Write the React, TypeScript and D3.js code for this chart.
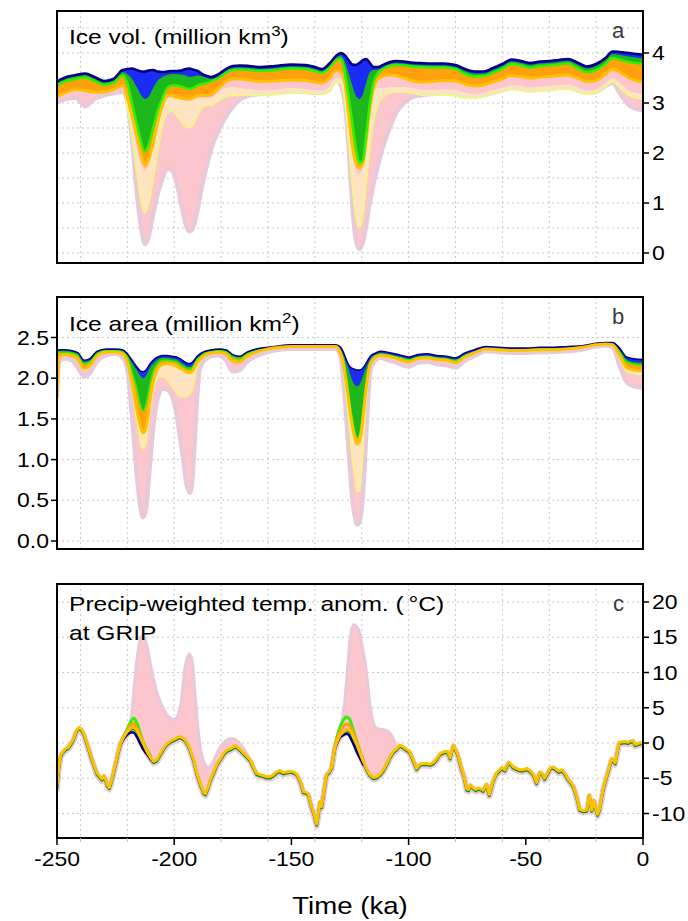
import React from "react";
import * as d3 from "d3";

// ================= DATA =================
const X_TICKS = [-250, -200, -150, -100, -50, 0];
const X_GRID = [-240, -220, -200, -180, -160, -140, -120, -100, -80, -60, -40, -20];

// ---------- Panel a : ice volume (million km^3), ensemble bands ----------
const TIME_A = [
  -250, -246, -242, -238, -234, -230, -226, -222, -220, -218,
  -216, -214, -212.5, -211, -209, -207, -205, -203, -201, -199,
  -197, -195, -193.5, -192, -190, -188, -186, -184, -181, -178,
  -175, -172, -168, -163, -157, -150, -144, -140, -137, -134,
  -131, -129, -127, -125.5, -124, -122.5, -121, -119.5, -118, -116.5,
  -115, -113, -111, -108, -105, -102, -99, -95, -90, -85,
  -80, -76, -72, -68, -64, -60, -56, -52, -48, -44,
  -40, -36, -32, -28, -24, -20, -16, -13, -10, -6,
  -3, 0,
];
const VOL_TOP = [
  3.43, 3.52, 3.56, 3.59, 3.52, 3.44, 3.48, 3.66, 3.68, 3.69,
  3.66, 3.63, 3.63, 3.65, 3.66, 3.63, 3.62, 3.63, 3.64, 3.64,
  3.65, 3.68, 3.69, 3.67, 3.64, 3.58, 3.54, 3.52, 3.58, 3.68,
  3.74, 3.75, 3.74, 3.72, 3.74, 3.77, 3.76, 3.72, 3.68, 3.78,
  3.94, 4.0, 3.95, 3.85, 3.77, 3.76, 3.8, 3.86, 3.88, 3.8,
  3.72, 3.72, 3.76, 3.82, 3.84, 3.83, 3.81, 3.8, 3.79, 3.79,
  3.76, 3.68, 3.63, 3.63, 3.7, 3.78, 3.87, 3.84, 3.8, 3.83,
  3.84, 3.86, 3.88, 3.81, 3.73, 3.78, 3.9, 4.03, 4.02, 4.0,
  3.98, 3.97,
];
const VOL_BLUE_LO = [
  3.4, 3.49, 3.53, 3.56, 3.49, 3.41, 3.45, 3.62, 3.58, 3.48,
  3.32, 3.15, 3.08, 3.12, 3.3, 3.45, 3.52, 3.56, 3.58, 3.58,
  3.57, 3.55, 3.52, 3.53, 3.55, 3.53, 3.5, 3.48, 3.54, 3.64,
  3.7, 3.71, 3.7, 3.68, 3.7, 3.73, 3.72, 3.68, 3.64, 3.74,
  3.9, 3.95, 3.8, 3.58, 3.35, 3.15, 3.08, 3.18, 3.42, 3.62,
  3.66, 3.67, 3.72, 3.78, 3.8, 3.79, 3.77, 3.76, 3.75, 3.75,
  3.72, 3.64, 3.59, 3.59, 3.66, 3.74, 3.83, 3.8, 3.76, 3.79,
  3.8, 3.82, 3.84, 3.77, 3.69, 3.74, 3.86, 3.98, 3.96, 3.93,
  3.91, 3.89,
];
const VOL_GREEN_LO = [
  3.35, 3.44, 3.48, 3.51, 3.44, 3.36, 3.4, 3.55, 3.4, 3.0,
  2.6, 2.2, 2.03, 2.15, 2.5, 2.85, 3.1, 3.3, 3.35, 3.35,
  3.33, 3.3, 3.28, 3.3, 3.35, 3.38, 3.4, 3.44, 3.5, 3.6,
  3.66, 3.67, 3.66, 3.64, 3.66, 3.69, 3.68, 3.64, 3.6, 3.7,
  3.86, 3.88, 3.55, 3.1, 2.6, 2.1, 1.8, 1.85, 2.4, 3.0,
  3.4, 3.6, 3.68, 3.74, 3.76, 3.75, 3.73, 3.72, 3.71, 3.71,
  3.68, 3.58, 3.53, 3.54, 3.6, 3.68, 3.78, 3.75, 3.7, 3.74,
  3.75, 3.77, 3.79, 3.7, 3.62, 3.66, 3.78, 3.9, 3.87, 3.82,
  3.8, 3.78,
];
const VOL_ORANGE_LO = [
  3.12, 3.22, 3.27, 3.25, 3.22, 3.22, 3.27, 3.35, 3.1, 2.75,
  2.35, 1.95, 1.74, 1.85, 2.2, 2.62, 2.95, 3.15, 3.15, 3.12,
  3.1, 3.08, 3.08, 3.1, 3.15, 3.15, 3.15, 3.17, 3.3, 3.42,
  3.48, 3.48, 3.46, 3.43, 3.44, 3.46, 3.45, 3.42, 3.4, 3.48,
  3.65, 3.62, 3.35, 2.75, 2.15, 1.8, 1.7, 1.8, 2.3, 2.9,
  3.3, 3.48, 3.54, 3.56, 3.55, 3.5, 3.45, 3.42, 3.43, 3.45,
  3.44, 3.38, 3.34, 3.36, 3.42, 3.48, 3.55, 3.53, 3.5, 3.52,
  3.53, 3.55, 3.56, 3.5, 3.43, 3.45, 3.58, 3.68, 3.62, 3.5,
  3.45, 3.42,
];
const VOL_YELLOW_HI = [
  3.15, 3.25, 3.28, 3.27, 3.25, 3.25, 3.28, 3.33, 3.05, 2.6,
  2.1, 1.75, 1.65, 1.75, 2.1, 2.55, 2.9, 3.1, 3.1, 3.08,
  3.06, 3.04, 3.04, 3.06, 3.1, 3.1, 3.1, 3.1, 3.22, 3.3,
  3.32, 3.3, 3.28, 3.25, 3.26, 3.3, 3.28, 3.26, 3.25, 3.32,
  3.5, 3.5, 3.2, 2.6, 2.0, 1.65, 1.58, 1.7, 2.2, 2.8,
  3.2, 3.3, 3.3, 3.32, 3.32, 3.32, 3.3, 3.27, 3.26, 3.27,
  3.26, 3.2, 3.18, 3.2, 3.26, 3.3, 3.35, 3.34, 3.31, 3.33,
  3.34, 3.36, 3.37, 3.31, 3.25, 3.28, 3.4, 3.5, 3.4, 3.25,
  3.2, 3.18,
];
const VOL_YELLOW_LO = [
  3.14, 3.24, 3.28, 3.26, 3.24, 3.24, 3.28, 3.34, 2.9, 2.3,
  1.6, 1.0, 0.8, 0.95, 1.45, 2.0, 2.55, 2.8, 2.85, 2.75,
  2.62, 2.52, 2.5, 2.55, 2.75, 2.9, 2.95, 2.95, 3.05, 3.12,
  3.15, 3.15, 3.15, 3.15, 3.16, 3.2, 3.2, 3.18, 3.17, 3.22,
  3.4, 3.4, 2.9, 2.1, 1.3, 0.7, 0.5, 0.75, 1.4, 2.1,
  2.6, 2.95, 3.1, 3.2, 3.22, 3.22, 3.2, 3.16, 3.15, 3.16,
  3.14, 3.1, 3.1, 3.12, 3.18, 3.22, 3.27, 3.25, 3.22, 3.24,
  3.25, 3.27, 3.28, 3.22, 3.17, 3.2, 3.32, 3.42, 3.3, 3.15,
  3.1, 3.08,
];
const VOL_PINK_LO = [
  3.0, 3.08, 3.1, 2.93, 3.08, 3.15, 3.19, 3.22, 3.0, 2.25,
  1.2, 0.45, 0.18, 0.3, 0.75, 1.17, 1.48, 1.68, 1.65, 1.4,
  0.95, 0.55, 0.43, 0.5, 0.85, 1.35, 1.75, 2.1, 2.45, 2.72,
  2.92, 3.06, 3.15, 3.18, 3.2, 3.23, 3.22, 3.2, 3.2, 3.25,
  3.45, 3.35, 2.9, 2.0, 0.9, 0.25, 0.08, 0.2, 0.55, 1.0,
  1.35, 1.75, 2.1, 2.5, 2.82, 3.0, 3.1, 3.15, 3.18, 3.19,
  3.17, 3.13, 3.13, 3.15, 3.2, 3.25, 3.3, 3.28, 3.25, 3.27,
  3.28, 3.3, 3.31, 3.25, 3.2, 3.22, 3.34, 3.4, 3.2, 2.95,
  2.88, 2.86,
];
const VOL_TICKS = [0, 1, 2, 3, 4];
const VOL_GRID = [0, 0.5, 1, 1.5, 2, 2.5, 3, 3.5, 4, 4.5];

// ---------- Panel b : ice area (million km^2) ----------
const TIME_B = [
  -250, -249, -247, -244, -241, -238.5, -236, -233, -229, -225,
  -222, -220, -218, -216, -214.5, -213.3, -212, -210.5, -209, -207,
  -205, -203, -201, -199, -197.5, -196, -195, -194, -193.3, -192.5,
  -191.5, -190.5, -189, -187, -184, -181, -178, -175, -172, -169,
  -165, -160, -155, -150, -145, -140, -135, -131, -129, -128,
  -127, -126, -125, -124, -123, -122, -121, -120, -119, -118,
  -117, -116, -114, -112, -109, -106, -103, -100, -96, -92,
  -88, -84, -80, -76, -72, -67, -62, -56, -50, -44,
  -38, -32, -26, -20, -16, -13, -10, -7, -4, 0,
];
const AREA_TOP = [
  2.33, 2.35, 2.35, 2.34, 2.31, 2.22, 2.24, 2.33, 2.36, 2.36,
  2.35, 2.3, 2.22, 2.14, 2.09, 2.08, 2.1, 2.17, 2.22, 2.26,
  2.28, 2.28, 2.27, 2.26, 2.24, 2.21, 2.19, 2.18, 2.18, 2.19,
  2.22, 2.26, 2.3, 2.33, 2.35, 2.36, 2.35, 2.29, 2.27, 2.32,
  2.36, 2.38, 2.4, 2.41, 2.41, 2.41, 2.41, 2.41, 2.38, 2.33,
  2.26, 2.19, 2.14, 2.12, 2.11, 2.1, 2.1, 2.11, 2.14, 2.19,
  2.24, 2.28, 2.31, 2.33, 2.32, 2.3, 2.28, 2.26, 2.29, 2.3,
  2.28, 2.27, 2.25, 2.31, 2.35, 2.39, 2.38, 2.37, 2.37, 2.38,
  2.38, 2.39, 2.4, 2.43, 2.44, 2.44, 2.37, 2.26, 2.24, 2.23,
];
const AREA_BLUE_LO = [
  2.32, 2.34, 2.34, 2.33, 2.3, 2.2, 2.22, 2.32, 2.35, 2.35,
  2.34, 2.29, 2.19, 2.1, 2.03, 2.0, 2.03, 2.12, 2.18, 2.23,
  2.25, 2.25, 2.24, 2.23, 2.2, 2.17, 2.15, 2.14, 2.14, 2.15,
  2.19, 2.24, 2.28, 2.32, 2.34, 2.35, 2.34, 2.28, 2.26, 2.31,
  2.35, 2.37, 2.39, 2.4, 2.4, 2.4, 2.4, 2.4, 2.36, 2.3,
  2.22, 2.14, 2.05, 1.97, 1.92, 1.9, 1.92, 1.98, 2.06, 2.14,
  2.2, 2.25, 2.29, 2.31, 2.3, 2.28, 2.26, 2.24, 2.27, 2.28,
  2.26, 2.25, 2.23, 2.29, 2.33, 2.37, 2.37, 2.36, 2.36, 2.37,
  2.37, 2.38, 2.39, 2.42, 2.43, 2.43, 2.35, 2.23, 2.2, 2.19,
];
const AREA_GREEN_LO = [
  2.3, 2.32, 2.32, 2.31, 2.28, 2.18, 2.2, 2.3, 2.34, 2.34,
  2.33, 2.26, 2.08, 1.88, 1.68, 1.6, 1.68, 1.9, 2.08, 2.18,
  2.22, 2.22, 2.21, 2.2, 2.17, 2.14, 2.12, 2.11, 2.11, 2.12,
  2.17, 2.22, 2.26, 2.31, 2.33, 2.34, 2.33, 2.26, 2.24, 2.3,
  2.34, 2.37, 2.39, 2.4, 2.4, 2.4, 2.4, 2.4, 2.34, 2.25,
  2.1, 1.9, 1.7, 1.5, 1.35, 1.27, 1.3, 1.45, 1.7, 1.95,
  2.12, 2.22, 2.28, 2.3, 2.29, 2.27, 2.25, 2.23, 2.26, 2.27,
  2.25, 2.24, 2.22, 2.28, 2.32, 2.37, 2.36, 2.35, 2.35, 2.36,
  2.36, 2.37, 2.39, 2.42, 2.43, 2.42, 2.32, 2.2, 2.17, 2.16,
];
const AREA_ORANGE_LO = [
  1.78, 2.26, 2.29, 2.28, 2.23, 2.12, 2.15, 2.27, 2.32, 2.32,
  2.3, 2.2, 1.95, 1.62, 1.42, 1.33, 1.4, 1.7, 1.95, 2.12,
  2.17, 2.18, 2.17, 2.15, 2.12, 2.1, 2.08, 2.07, 2.07, 2.08,
  2.12, 2.18, 2.23, 2.28, 2.31, 2.32, 2.3, 2.21, 2.2, 2.27,
  2.32, 2.36, 2.38, 2.39, 2.39, 2.39, 2.39, 2.39, 2.3, 2.2,
  2.02, 1.82, 1.6, 1.42, 1.27, 1.19, 1.22, 1.38, 1.65, 1.9,
  2.1, 2.2, 2.26, 2.28, 2.27, 2.25, 2.22, 2.2, 2.24, 2.25,
  2.23, 2.22, 2.19, 2.26, 2.31, 2.36, 2.35, 2.34, 2.34, 2.35,
  2.35, 2.36, 2.38, 2.41, 2.42, 2.41, 2.28, 2.13, 2.1, 2.09,
];
const AREA_YELLOW_LO = [
  1.78, 2.25, 2.28, 2.27, 2.22, 2.1, 2.13, 2.26, 2.31, 2.31,
  2.29, 2.18, 1.9, 1.5, 1.22, 1.12, 1.2, 1.55, 1.85, 2.0,
  2.02, 1.98, 1.9, 1.82, 1.78, 1.77, 1.77, 1.78, 1.8, 1.84,
  1.95, 2.1, 2.2, 2.26, 2.3, 2.31, 2.29, 2.2, 2.19, 2.26,
  2.31, 2.35, 2.37, 2.38, 2.38, 2.38, 2.38, 2.38, 2.28, 2.15,
  1.9, 1.6, 1.3, 1.0, 0.8, 0.6, 0.62, 0.85, 1.3, 1.75,
  2.05, 2.18, 2.25, 2.27, 2.26, 2.24, 2.21, 2.19, 2.23, 2.24,
  2.22, 2.21, 2.18, 2.25, 2.3, 2.35, 2.34, 2.33, 2.33, 2.34,
  2.34, 2.35, 2.37, 2.4, 2.41, 2.4, 2.25, 2.08, 2.05, 2.04,
];
const AREA_PINK_LO = [
  1.75, 2.2, 2.24, 2.22, 2.12, 2.02, 2.06, 2.2, 2.28, 2.3,
  2.25, 2.1, 1.5, 0.8, 0.42, 0.29, 0.38, 0.85, 1.35, 1.75,
  1.87, 1.86, 1.78, 1.55, 1.25, 0.95, 0.72, 0.62, 0.59, 0.66,
  1.05, 1.6, 2.12, 2.22, 2.27, 2.28, 2.22, 2.08, 2.1, 2.2,
  2.27, 2.32, 2.35, 2.36, 2.36, 2.36, 2.36, 2.36, 2.25, 2.0,
  1.65, 1.25, 0.85, 0.5, 0.3, 0.2, 0.23, 0.38, 0.75, 1.3,
  1.85, 2.12, 2.22, 2.25, 2.22, 2.2, 2.16, 2.14, 2.19, 2.2,
  2.17, 2.16, 2.13, 2.21, 2.27, 2.33, 2.32, 2.31, 2.31, 2.32,
  2.32, 2.33, 2.35, 2.39, 2.4, 2.38, 2.15, 1.95, 1.9, 1.88,
];
const AREA_TICKS = [0, 0.5, 1, 1.5, 2, 2.5];

// ---------- Panel c : precip-weighted temperature anomaly at GRIP ----------
const TEMP_MAIN: [number, number][] = [
  [-250, -6.2], [-249.3, -3.6], [-248.6, -1.9], [-247.5, -1.2], [-246.4, -0.8], [-245.5, -0.7],
  [-245, -0.5], [-244, 0.0], [-243, 0.6], [-241.8, 1.7], [-240.7, 2.2], [-239.6, 2.0],
  [-238.5, 1.3], [-237.2, 0.0], [-235.8, -1.5], [-234.3, -3.0], [-232.9, -4.3], [-231.6, -4.8],
  [-230.8, -5.1], [-229.9, -4.6], [-229.2, -5.2], [-228.5, -6.0], [-227.7, -6.3], [-227, -5.6],
  [-226, -4.3], [-225, -2.9], [-224, -1.4], [-223, -0.1], [-221.5, 0.9], [-220, 1.6],
  [-218.5, 2.1], [-217.3, 2.3], [-216, 1.8], [-214.5, 0.9], [-213, -0.2], [-211.6, -1.2],
  [-210, -2.1], [-208.8, -2.6], [-207.5, -2.4], [-205.9, -1.5], [-204.5, -0.7], [-203.1, -0.1],
  [-201.5, 0.3], [-200.2, 0.5], [-198.5, 0.8], [-197.4, 0.9], [-196.2, 0.7], [-195.2, 0.4],
  [-194, -0.3], [-193.1, -1.0], [-191.6, -2.5], [-190.3, -4.3], [-188.8, -5.8], [-187.4, -7.0],
  [-186.7, -7.2], [-185.6, -6.3], [-184.6, -5.2], [-183, -4.0], [-181.7, -2.9], [-180, -2.1],
  [-178.9, -1.5], [-177.5, -1.0], [-176, -0.8], [-174.5, -0.5], [-173.6, -0.4], [-172.6, -0.7],
  [-171.6, -1.0], [-170.4, -1.4], [-168.9, -1.9], [-167.5, -2.4], [-166.2, -3.4], [-164.8, -4.3],
  [-163.4, -4.5], [-162, -4.6], [-160.6, -4.8], [-159, -4.8], [-157.7, -4.5], [-156.3, -4.1],
  [-154.9, -3.9], [-153.5, -4.2], [-152, -4.1], [-150.5, -4.0], [-149.2, -4.1], [-148, -4.3],
  [-147, -4.8], [-146, -5.6], [-144.9, -6.9], [-143.7, -7.0], [-142.8, -7.2], [-141.4, -9.0],
  [-140.2, -10.2], [-139.2, -11.5], [-138.5, -10.0], [-137.8, -8.3], [-137.1, -9.0], [-136, -6.5],
  [-135, -4.4], [-134, -4.1], [-132.8, -3.4], [-131.4, -0.5], [-130.3, 0.4], [-129.3, 1.1],
  [-128, 1.5], [-126.4, 1.9], [-125.2, 1.8], [-124.3, 1.4], [-123.2, 0.6], [-122.2, -0.1],
  [-120.7, -1.4], [-119.3, -2.6], [-118, -3.6], [-116.5, -4.5], [-115, -4.9], [-113.6, -4.8],
  [-112.2, -4.4], [-110.8, -3.8], [-109.3, -2.9], [-107.9, -1.9], [-106.5, -1.2], [-105.1, -0.8],
  [-103.7, -0.3], [-102.5, -0.5], [-101.3, -0.8], [-100.3, -1.0], [-99.4, -1.3], [-98, -2.4],
  [-96.6, -3.6], [-95.1, -3.0], [-94, -2.9], [-92.3, -2.9], [-90.9, -3.0], [-89.5, -2.8],
  [-88, -2.2], [-86.6, -1.5], [-84.5, -1.2], [-83.3, -1.2], [-82.3, -2.1], [-81.5, -1.0],
  [-80.9, -0.3], [-79.8, -1.0], [-78.8, -1.8], [-77.6, -3.4], [-76.4, -4.6], [-75.2, -6.5],
  [-74.4, -6.6], [-73.6, -5.9], [-72.6, -6.3], [-71.3, -6.6], [-70.2, -6.4], [-69.2, -6.5],
  [-68.2, -6.7], [-66.8, -5.8], [-65.6, -7.3], [-64, -5.4], [-62.6, -4.3], [-61.2, -3.8],
  [-60.2, -3.5], [-59, -3.8], [-57.4, -2.7], [-56.3, -3.0], [-55.3, -3.4], [-54, -3.6],
  [-52.5, -3.8], [-51, -3.8], [-49.6, -3.6], [-48.2, -3.9], [-46.8, -4.4], [-45.4, -5.6],
  [-44, -4.1], [-43, -4.3], [-42, -5.0], [-41, -4.4], [-39.5, -3.5], [-38.3, -3.4],
  [-37, -3.7], [-36, -4.0], [-34.7, -3.8], [-33.3, -4.3], [-31.9, -5.1], [-30.7, -5.6],
  [-29.7, -6.1], [-28.4, -7.4], [-27, -9.4], [-25.5, -9.6], [-24, -9.5], [-23.4, -8.5],
  [-22.9, -7.3], [-22.3, -8.6], [-21.9, -9.5], [-21.3, -8.8], [-20.9, -8.1], [-20.2, -9.2],
  [-19.4, -10.1], [-18.6, -9.4], [-17.6, -7.6], [-16.8, -6.2], [-15.6, -4.8], [-14.5, -3.5],
  [-13.4, -2.2], [-12.6, -2.5], [-11.9, -2.8], [-11, -1.2], [-10.2, 0.1], [-9, 0.15],
  [-7.5, 0.2], [-6.3, 0.1], [-5.2, 0.3], [-4.2, 0.35], [-3.4, -0.2], [-2.2, -0.1],
  [-1.2, 0.05], [0, 0.05],
];
const TIME_PEAK1 = [-223, -221.5, -220, -218.5, -217.3, -216, -214.5, -213, -211.6, -210];
const TEMP_GREEN1 = [-0.1, 1.0, 2.0, 3.0, 3.5, 2.9, 1.4, 0.0, -1.0, -1.9];
const TEMP_ORANGE1 = [-0.1, 0.9, 1.8, 2.5, 2.8, 2.2, 1.1, -0.1, -1.1, -2.0];
const TEMP_NAVY1 = [-0.2, 0.6, 1.2, 1.5, 1.5, 0.9, -0.1, -1.0, -1.6, -2.3];
const TIME_PEAK2 = [-132.8, -131.4, -130.3, -129.3, -128, -126.4, -125.2, -124.3, -123.2, -122.2, -120.7, -119.3];
const TEMP_GREEN2 = [-3.4, -0.4, 1.2, 2.2, 3.2, 3.7, 3.4, 2.6, 1.4, 0.3, -1.2, -2.5];
const TEMP_ORANGE2 = [-3.4, -0.5, 0.8, 1.6, 2.3, 2.7, 2.5, 2.0, 1.0, 0.1, -1.3, -2.6];
const TEMP_NAVY2 = [-3.5, -0.7, 0.2, 0.8, 1.1, 1.3, 1.0, 0.4, -0.4, -1.2, -2.2, -3.1];
const TEMP_PINK_HI1: [number, number][] = [
  [-221.5, 0.9], [-220, 1.8], [-219, 2.6], [-218.2, 3.9], [-217.2, 7.5], [-216.2, 11.0],
  [-215.2, 13.6], [-214.4, 14.9], [-213.4, 15.3], [-212.5, 14.9], [-211.5, 13.6], [-210.2, 11.3],
  [-208.9, 9.2], [-207.5, 7.3], [-206.1, 5.9], [-204.5, 4.8], [-203.2, 4.0], [-201.6, 3.5],
  [-200.3, 3.3], [-199, 3.5], [-197.8, 4.4], [-197, 5.8], [-196.2, 8.5], [-195.4, 10.7],
  [-194.6, 12.0], [-193.6, 12.6], [-192.8, 12.3], [-192.1, 11.0], [-191.5, 8.6], [-190.9, 6.0],
  [-190.3, 3.6], [-189.6, 1.2], [-188.6, -1.2], [-187.6, -2.5], [-186.4, -3.3], [-185, -3.5],
  [-183.5, -2.8], [-181.7, -1.4], [-180, -0.4], [-178.5, 0.2], [-176.5, 0.6], [-174.5, 0.6],
  [-172.5, 0.1], [-170.5, -0.7], [-168.9, -1.6], [-167.5, -2.4],
];
const TEMP_PINK_HI2: [number, number][] = [
  [-131.4, -0.4], [-130.3, 0.8], [-129.3, 1.8], [-128.2, 3.5], [-127.2, 6.0], [-126.2, 10.0],
  [-125.2, 14.0], [-124.3, 16.2], [-123.4, 16.8], [-122.4, 16.6], [-121.4, 16.1], [-120.4, 14.8],
  [-119.4, 13.0], [-118.5, 11.4], [-117.5, 8.6], [-116.6, 5.6], [-115.5, 3.4], [-114.5, 2.3],
  [-113, 2.0], [-111, 1.9], [-109, 1.7], [-107.5, 1.2], [-106, 0.2], [-105.1, -0.6],
];
const TEMP_TICKS = [-10, -5, 0, 5, 10, 15, 20];

// ================= LAYOUT / STYLE =================
const W = 688;
const H = 921;
const X0 = 57;
const X1 = 643;
const PANEL_A = { top: 11, bottom: 263 };
const PANEL_B = { top: 297, bottom: 549 };
const PANEL_C = { top: 584, bottom: 838 };
const FONT = "'Liberation Sans', Arial, Helvetica, sans-serif";

const C = {
  pink: "#FDC6CD",
  thistle: "#E7C9D9",
  yellow: "#FFF9B8",
  yellowEdge: "#EDFF6A",
  orange: "#FFA00C",
  gold: "#FFC000",
  green: "#1CB81C",
  lime: "#33F000",
  dkgreen: "#008C00",
  blue: "#1B2DF2",
  navy: "#000088",
  grid: "#C9C9C9",
};

const x = d3.scaleLinear().domain([-250, 0]).range([X0, X1]);
const yA = d3.scaleLinear().domain([0, 4]).range([253, 53]);
const yB = d3.scaleLinear().domain([0, 2.5]).range([541, 337.5]);
const yC = d3.scaleLinear().domain([0, 20]).range([743, 602]);

function areaPath(t: number[], lo: number[], hi: number[], y: any) {
  const idx = d3.range(t.length);
  return (
    d3
      .area<number>()
      .x((i) => x(t[i]))
      .y0((i) => y(lo[i]))
      .y1((i) => y(hi[i]))
      .curve(d3.curveMonotoneX)(idx) || ""
  );
}
function linePath(t: number[], v: number[], y: any, curve: any = d3.curveMonotoneX) {
  const idx = d3.range(t.length);
  return (
    d3
      .line<number>()
      .x((i) => x(t[i]))
      .y((i) => y(v[i]))
      .curve(curve)(idx) || ""
  );
}
function pairPath(p: [number, number][], y: any) {
  return (
    d3
      .line<[number, number]>()
      .x((d) => x(d[0]))
      .y((d) => y(d[1]))
      .curve(d3.curveLinear)(p) || ""
  );
}
function envelopePath(hi: [number, number][], base: [number, number][], y: any) {
  const t0 = hi[0][0];
  const t1 = hi[hi.length - 1][0];
  const back = base.filter((d) => d[0] >= t0 && d[0] <= t1).slice().reverse();
  const pts = [...hi, ...back];
  return (
    d3
      .line<[number, number]>()
      .x((d) => x(d[0]))
      .y((d) => y(d[1]))
      .curve(d3.curveLinearClosed)(pts) || ""
  );
}

function Grid({ y, values, top, bottom }: any) {
  return (
    <g stroke={C.grid} strokeWidth={1} strokeDasharray="2,3" fill="none">
      {X_GRID.map((t) => (
        <line key={"v" + t} x1={x(t)} x2={x(t)} y1={top} y2={bottom} />
      ))}
      {values.map((v: number) => (
        <line key={"h" + v} x1={X0} x2={X1} y1={y(v)} y2={y(v)} />
      ))}
    </g>
  );
}

function Stack({ t, top, blueLo, greenLo, orangeLo, yellowHi, yellowLo, pinkLo, y, thin }: any) {
  return (
    <g>
      <path d={areaPath(t, pinkLo, top, y)} fill={C.pink} />
      <path d={linePath(t, pinkLo, y)} fill="none" stroke={C.thistle} strokeWidth={4} />
      <path d={areaPath(t, yellowLo, yellowHi, y)} fill={C.yellow} opacity={0.6} />
      <path d={linePath(t, yellowLo, y)} fill="none" stroke={C.yellowEdge} strokeWidth={1.5} opacity={0.8} />
      <path d={areaPath(t, orangeLo, top, y)} fill={C.orange} />
      {!thin && <path d={linePath(t, orangeLo, y)} fill="none" stroke={C.gold} strokeWidth={3} />}
      <path d={areaPath(t, greenLo, top, y)} fill={C.green} />
      <path d={linePath(t, greenLo, y)} fill="none" stroke={C.lime} strokeWidth={thin ? 1.5 : 2.5} />
      <path d={areaPath(t, blueLo, top, y)} fill={C.blue} />
      <path d={linePath(t, top, y)} fill="none" stroke={C.navy} strokeWidth={thin ? 1.5 : 2.5} />
      {thin && <path d={linePath(t, orangeLo, y)} fill="none" stroke={C.gold} strokeWidth={3} />}
    </g>
  );
}

function TextS({ x: tx, y: ty, anchor = "start", size = 20, sx = 1.15, fill = "#000", children }: any) {
  return (
    <text
      transform={`translate(${tx},${ty}) scale(${sx},1)`}
      textAnchor={anchor}
      fontSize={size}
      fontFamily={FONT}
      fill={fill}
    >
      {children}
    </text>
  );
}

function Frame({ top, bottom }: any) {
  return <rect x={X0} y={top} width={X1 - X0} height={bottom - top} fill="none" stroke="#000" strokeWidth={2} />;
}

export default function App() {
  const mainPath = pairPath(TEMP_MAIN, yC);
  return (
    <div>
      <svg
        width={W}
        height={H}
        viewBox={`0 0 ${W} ${H}`}
        style={{ position: "absolute", left: 0, top: 0, display: "block", background: "#fff" }}
      >
        <defs>
          <clipPath id="clipA">
            <rect x={X0} y={PANEL_A.top} width={X1 - X0} height={PANEL_A.bottom - PANEL_A.top} />
          </clipPath>
          <clipPath id="clipB">
            <rect x={X0} y={PANEL_B.top} width={X1 - X0} height={PANEL_B.bottom - PANEL_B.top} />
          </clipPath>
          <clipPath id="clipC">
            <rect x={X0} y={PANEL_C.top} width={X1 - X0} height={PANEL_C.bottom - PANEL_C.top} />
          </clipPath>
        </defs>
        <rect x={0} y={0} width={W} height={H} fill="#fff" />

        {/* ---------------- Panel a ---------------- */}
        <Grid y={yA} values={VOL_GRID} top={PANEL_A.top} bottom={PANEL_A.bottom} />
        <g clipPath="url(#clipA)" strokeLinejoin="round">
          <Stack
            t={TIME_A}
            top={VOL_TOP}
            blueLo={VOL_BLUE_LO}
            greenLo={VOL_GREEN_LO}
            orangeLo={VOL_ORANGE_LO}
            yellowHi={VOL_YELLOW_HI}
            yellowLo={VOL_YELLOW_LO}
            pinkLo={VOL_PINK_LO}
            y={yA}
          />
        </g>
        <Frame top={PANEL_A.top} bottom={PANEL_A.bottom} />
        {VOL_TICKS.map((v) => (
          <g key={"ta" + v}>
            <line x1={X1} x2={X1 + 6} y1={yA(v)} y2={yA(v)} stroke="#000" strokeWidth={1.5} />
            <TextS x={X1 + 9} y={yA(v) + 7}>{String(v)}</TextS>
          </g>
        ))}
        <TextS x={69} y={44} size={20.5} sx={1.2}>
          Ice vol. (million km<tspan dy={-8} fontSize={14}>3</tspan>
          <tspan dy={8}>)</tspan>
        </TextS>
        <TextS x={612} y={38} size={22} sx={1} fill="#3a3a3a">a</TextS>

        {/* ---------------- Panel b ---------------- */}
        <Grid y={yB} values={AREA_TICKS} top={PANEL_B.top} bottom={PANEL_B.bottom} />
        <g clipPath="url(#clipB)" strokeLinejoin="round">
          <Stack
            t={TIME_B}
            top={AREA_TOP}
            blueLo={AREA_BLUE_LO}
            greenLo={AREA_GREEN_LO}
            orangeLo={AREA_ORANGE_LO}
            yellowHi={AREA_ORANGE_LO}
            yellowLo={AREA_YELLOW_LO}
            pinkLo={AREA_PINK_LO}
            y={yB}
            thin
          />
        </g>
        <Frame top={PANEL_B.top} bottom={PANEL_B.bottom} />
        {AREA_TICKS.map((v) => (
          <g key={"tb" + v}>
            <line x1={X0 - 6} x2={X0} y1={yB(v)} y2={yB(v)} stroke="#000" strokeWidth={1.5} />
            <TextS x={X0 - 8} y={yB(v) + 7} anchor="end">{v.toFixed(1)}</TextS>
          </g>
        ))}
        <TextS x={69} y={331} size={20.5} sx={1.2}>
          Ice area (million km<tspan dy={-8} fontSize={14}>2</tspan>
          <tspan dy={8}>)</tspan>
        </TextS>
        <TextS x={612} y={324} size={22} sx={1} fill="#3a3a3a">b</TextS>

        {/* ---------------- Panel c ---------------- */}
        <Grid y={yC} values={TEMP_TICKS} top={PANEL_C.top} bottom={PANEL_C.bottom} />
        <g clipPath="url(#clipC)" strokeLinejoin="round" strokeLinecap="round">
          <path d={envelopePath(TEMP_PINK_HI1, TEMP_MAIN, yC)} fill={C.pink} stroke={C.thistle} strokeWidth={3} />
          <path d={envelopePath(TEMP_PINK_HI2, TEMP_MAIN, yC)} fill={C.pink} stroke={C.thistle} strokeWidth={3} />
          <path d={mainPath} fill="none" stroke={C.thistle} strokeWidth={6} transform="translate(0,2)" />
          <path d={mainPath} fill="none" stroke={C.dkgreen} strokeWidth={3} transform="translate(0,1.2)" />
          <path d={linePath(TIME_PEAK1, TEMP_NAVY1, yC)} fill="none" stroke={C.navy} strokeWidth={2.5} />
          <path d={linePath(TIME_PEAK1, TEMP_GREEN1, yC)} fill="none" stroke={C.lime} strokeWidth={3} />
          <path d={linePath(TIME_PEAK1, TEMP_ORANGE1, yC)} fill="none" stroke={C.orange} strokeWidth={3} />
          <path d={linePath(TIME_PEAK2, TEMP_NAVY2, yC)} fill="none" stroke={C.navy} strokeWidth={2.5} />
          <path d={linePath(TIME_PEAK2, TEMP_GREEN2, yC)} fill="none" stroke={C.lime} strokeWidth={3} />
          <path d={linePath(TIME_PEAK2, TEMP_ORANGE2, yC)} fill="none" stroke={C.orange} strokeWidth={3} />
          <path d={mainPath} fill="none" stroke={C.gold} strokeWidth={3} />
        </g>
        <Frame top={PANEL_C.top} bottom={PANEL_C.bottom} />
        {TEMP_TICKS.map((v) => (
          <g key={"tc" + v}>
            <line x1={X1} x2={X1 + 6} y1={yC(v)} y2={yC(v)} stroke="#000" strokeWidth={1.5} />
            <TextS x={X1 + 9} y={yC(v) + 7}>{String(v)}</TextS>
          </g>
        ))}
        <TextS x={69} y={611} size={20.5} sx={1.2}>
          Precip-weighted temp. anom. (<tspan dx={4}>°C)</tspan>
        </TextS>
        <TextS x={69} y={640} size={20.5} sx={1.2}>at GRIP</TextS>
        <TextS x={613} y={611} size={22} sx={1} fill="#3a3a3a">c</TextS>

        {/* ---------------- x axis ---------------- */}
        {X_GRID.map((t) => (
          <line key={"mt" + t} x1={x(t)} x2={x(t)} y1={PANEL_C.bottom} y2={PANEL_C.bottom + 4} stroke="#bbb" strokeWidth={1} />
        ))}
        {X_TICKS.map((t) => (
          <g key={"xt" + t}>
            <line x1={x(t)} x2={x(t)} y1={PANEL_C.bottom} y2={PANEL_C.bottom + 7} stroke="#000" strokeWidth={1.5} />
            <TextS x={x(t)} y={866} anchor="middle">{String(t)}</TextS>
          </g>
        ))}
        <TextS x={(X0 + X1) / 2} y={914} anchor="middle" size={24} sx={1.15}>
          Time (ka)
        </TextS>
      </svg>
    </div>
  );
}
